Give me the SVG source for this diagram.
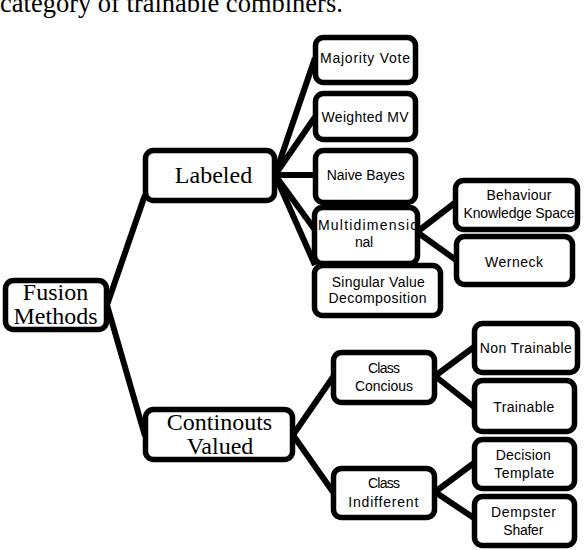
<svg xmlns="http://www.w3.org/2000/svg" width="586" height="550" viewBox="0 0 586 550">
<style>
.box{fill:#fff;stroke:#000;stroke-width:5.5}
.serif{font-family:"Liberation Serif","Times New Roman",serif;font-size:24px;fill:#000;text-anchor:middle}
.sans{font-family:"Liberation Sans",Arial,sans-serif;font-size:14px;fill:#000;text-anchor:middle}
.conn line{stroke:#000;stroke-width:6;stroke-linecap:butt}
</style>
<rect width="586" height="550" fill="#fff"/>
<text x="0" y="12" font-family="Liberation Serif, Times New Roman, serif" font-size="26.5" fill="#000">category of trainable combiners.</text>
<g id="connectors" class="conn">
<line x1="107" y1="305" x2="145" y2="195"/>
<line x1="107" y1="305" x2="145" y2="436"/>
<line x1="275" y1="175" x2="315" y2="58"/>
<line x1="275" y1="175" x2="315" y2="117"/>
<line x1="275" y1="175" x2="315" y2="175"/>
<line x1="275" y1="175" x2="315" y2="230"/>
<line x1="275" y1="175" x2="315" y2="265"/>
<line x1="417" y1="232" x2="456" y2="202"/>
<line x1="417" y1="232" x2="456" y2="260"/>
<line x1="293" y1="435" x2="333" y2="377"/>
<line x1="293" y1="435" x2="333" y2="492"/>
<line x1="435" y1="376" x2="474" y2="347"/>
<line x1="435" y1="376" x2="474" y2="407"/>
<line x1="435" y1="492" x2="474" y2="463"/>
<line x1="435" y1="492" x2="474" y2="518"/>
</g>
<g id="fusion"><rect class="box" x="5.5" y="280.5" width="101" height="49" rx="8"/><text class="serif" x="55.5" y="300">Fusion</text><text class="serif" x="55.5" y="324">Methods</text></g>
<g id="labeled"><rect class="box" x="145.5" y="150.5" width="129" height="50" rx="8"/><text class="serif" x="213.5" y="183">Labeled</text></g>
<g id="continuous"><rect class="box" x="145.5" y="409.5" width="147" height="50" rx="8"/><text class="serif" x="219.5" y="430">Continouts</text><text class="serif" x="220" y="454">Valued</text></g>
<g id="majority"><rect class="box" x="315.5" y="37.5" width="100" height="45" rx="8"/><text class="sans" x="365" y="63" textLength="90" lengthAdjust="spacing">Majority Vote</text></g>
<g id="weighted"><rect class="box" x="315.5" y="93.5" width="100" height="46" rx="8"/><text class="sans" x="365" y="121.7" textLength="87" lengthAdjust="spacing">Weighted MV</text></g>
<g id="naive"><rect class="box" x="315.5" y="150.5" width="100" height="52" rx="8"/><text class="sans" x="365.8" y="180" textLength="78" lengthAdjust="spacing">Naive Bayes</text></g>
<g id="multi"><rect class="box" x="314.5" y="207.5" width="103" height="56" rx="8"/><text class="sans" x="318" y="230" style="text-anchor:start" textLength="100" lengthAdjust="spacing">Multidimensio</text><text class="sans" x="364" y="247" textLength="18" lengthAdjust="spacing">nal</text></g>
<g id="svd"><rect class="box" x="314.5" y="265.5" width="126" height="50" rx="8"/><text class="sans" x="378.3" y="286.7" textLength="93" lengthAdjust="spacing">Singular Value</text><text class="sans" x="377.5" y="303.3" textLength="98" lengthAdjust="spacing">Decomposition</text></g>
<g id="bks"><rect class="box" x="455.5" y="180.5" width="122" height="49" rx="8"/><text class="sans" x="519" y="200" textLength="65" lengthAdjust="spacing">Behaviour</text><text class="sans" x="519" y="218.3" textLength="111" lengthAdjust="spacing">Knowledge Space</text></g>
<g id="werneck"><rect class="box" x="456.5" y="236.5" width="116" height="48" rx="8"/><text class="sans" x="514" y="266.7" textLength="58" lengthAdjust="spacing">Werneck</text></g>
<g id="concious"><rect class="box" x="333.5" y="352.5" width="101" height="50" rx="8"/><text class="sans" x="384" y="373.3" textLength="32" lengthAdjust="spacing">Class</text><text class="sans" x="384" y="391" textLength="58" lengthAdjust="spacing">Concious</text></g>
<g id="indifferent"><rect class="box" x="333.5" y="468.5" width="101" height="49" rx="8"/><text class="sans" x="384" y="488.3" textLength="32" lengthAdjust="spacing">Class</text><text class="sans" x="383.3" y="506.7" textLength="70" lengthAdjust="spacing">Indifferent</text></g>
<g id="nontrainable"><rect class="box" x="474.5" y="323.5" width="103" height="49" rx="8"/><text class="sans" x="525.8" y="353.3" textLength="92" lengthAdjust="spacing">Non Trainable</text></g>
<g id="trainable"><rect class="box" x="474.5" y="380.5" width="100" height="51" rx="8"/><text class="sans" x="523.7" y="411.7" textLength="61" lengthAdjust="spacing">Trainable</text></g>
<g id="decision"><rect class="box" x="474.5" y="439.5" width="100" height="49" rx="8"/><text class="sans" x="523.3" y="460" textLength="55" lengthAdjust="spacing">Decision</text><text class="sans" x="524.3" y="477.7" textLength="60" lengthAdjust="spacing">Template</text></g>
<g id="dempster"><rect class="box" x="474.5" y="496.5" width="100" height="49" rx="8"/><text class="sans" x="523.5" y="517.3" textLength="65" lengthAdjust="spacing">Dempster</text><text class="sans" x="523.3" y="535" textLength="40" lengthAdjust="spacing">Shafer</text></g>
</svg>
